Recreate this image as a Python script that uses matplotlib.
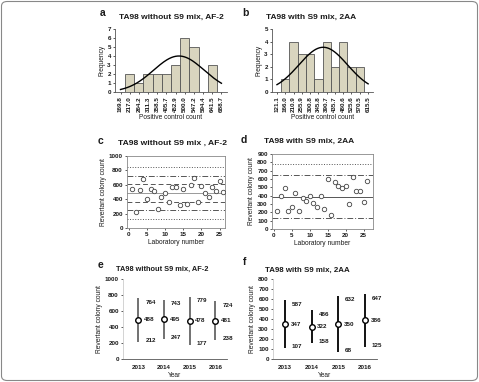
import matplotlib.pyplot as plt
import matplotlib.patches as mpatches
import numpy as np

W, H = 479, 382

# panel a / b histograms
binsA = [169.8, 217.0, 264.2, 311.3, 358.5, 405.7, 452.9, 500.0, 547.2, 594.4, 641.5, 688.7]
freqA = [0, 2, 1, 2, 2, 2, 3, 6, 5, 0, 3, 0]
binsB = [121.1, 166.0, 210.9, 255.9, 300.8, 345.8, 390.7, 435.7, 480.6, 525.6, 570.5, 615.5]
freqB = [0, 1, 4, 3, 3, 1, 4, 2, 4, 2, 2, 0]
# fitted normal curves (mean, sd, peak)
curveA = (470.0, 130.0, 4.0)
curveB = (372.0, 132.0, 3.55)

# panel c / d laboratory results
labs = list(range(1, 27))
countC = [541, 220, 527, 674, 404, 541, 518, 266, 436, 482, 358, 564, 564,
          321, 537, 335, 596, 688, 367, 583, 482, 436, 573, 514, 656, 495]
countD = [212, 400, 492, 212, 264, 432, 212, 372, 340, 400, 312, 264, 400,
          240, 604, 168, 560, 520, 492, 512, 300, 620, 460, 452, 324, 572]
meanC, sdC = 486, 121
meanD, sdD = 390, 130

# panel e / f yearly summaries
years = ['2013', '2014', '2015', '2016']
meanE = [488, 495, 478, 481]
minE = [212, 247, 177, 238]
maxE = [764, 743, 779, 724]
meanF = [347, 322, 350, 386]
minF = [107, 158, 68, 125]
maxF = [587, 486, 632, 647]

plt.rcParams['font.family'] = ['Liberation Sans', 'DejaVu Sans']
plt.rcParams['font.weight'] = 'bold'
TXT = '#1a1a1a'
TICK = 4.5
LAB = 4.8

fig = plt.figure(figsize=(W / 100, H / 100), dpi=100)
fig.patches.append(mpatches.FancyBboxPatch((1.5 / W, 1.5 / H), 1 - 3 / W, 1 - 3 / H,
                                           boxstyle='round,pad=0,rounding_size=0.012',
                                           transform=fig.transFigure, fill=False,
                                           edgecolor='#888888', lw=0.8))


def ax_px(l, t, r, b):
    return fig.add_axes([l / W, 1 - b / H, (r - l) / W, (b - t) / H])


def ftext(x, y, s, **kw):
    fig.text(x / W, 1 - y / H, s, color=TXT, ha='center', va='center', **kw)


def style(ax, box=False):
    for s in ['top', 'right']:
        ax.spines[s].set_visible(box)
    for s in ax.spines.values():
        s.set_linewidth(0.6)
        s.set_color('#888888' if box else '#555555')
    ax.tick_params(labelsize=TICK, length=1.5, width=0.5, pad=1.5, colors=TXT)


def histogram(ax, bins, freq, curve, ymax):
    idx = np.arange(len(bins))
    ax.bar(idx, freq, width=1.0, color='#d9d5bf', edgecolor='#555555', linewidth=0.6)
    step = bins[1] - bins[0]
    xs = np.linspace(bins[0], bins[-1], 200)
    mu, sd, peak = curve
    ax.plot((xs - bins[0]) / step, peak * np.exp(-0.5 * ((xs - mu) / sd) ** 2), color='black', lw=1.0)
    ax.set_xlim(-0.6, len(bins) - 0.4)
    ax.set_ylim(0, ymax)
    ax.set_yticks(range(ymax + 1))
    ax.set_xticks(idx)
    ax.set_xticklabels(['%.1f' % b for b in bins], rotation=90)
    ax.set_ylabel('Frequency', fontsize=LAB, labelpad=1.5, color=TXT)
    ax.set_xlabel('Positive control count', fontsize=LAB, labelpad=1.5, color=TXT)
    style(ax)


def scatter(ax, counts, lines, ymax, ystep, xmax):
    ax.plot(labs, counts, 'o', ms=3.2, mfc='white', mec='#444444', mew=0.6, zorder=3)
    for y, ls, col in lines:
        ax.axhline(y, ls=ls, color=col, lw=0.7)
    ax.set_xlim(-0.5, xmax)
    ax.set_ylim(0, ymax)
    ax.set_yticks(range(0, ymax + 1, ystep))
    ax.set_xticks(range(0, 26, 5))
    ax.set_ylabel('Revertant colony count', fontsize=LAB, labelpad=1.5, color=TXT)
    ax.set_xlabel('Laboratory number', fontsize=LAB, labelpad=1.5, color=TXT)
    style(ax, box=True)


def summary(ax, mean, lo, hi, ymax, ystep, barcol, xlim):
    x = np.arange(len(years))
    ax.vlines(x, lo, hi, color=barcol, lw=1.3)
    ax.plot(x, mean, 'o', ms=4.0, mfc='white', mec='black', mew=1.0, zorder=3)
    for i in range(len(years)):
        ax.annotate(str(hi[i]), (x[i], hi[i]), xytext=(5, -3), textcoords='offset points',
                    fontsize=TICK, va='center', color=TXT)
        ax.annotate(str(mean[i]), (x[i], mean[i]), xytext=(4, 0), textcoords='offset points',
                    fontsize=TICK, va='center', color=TXT)
        ax.annotate(str(lo[i]), (x[i], lo[i]), xytext=(5, 1), textcoords='offset points',
                    fontsize=TICK, va='center', color=TXT)
    ax.set_xlim(*xlim)
    ax.set_ylim(0, ymax)
    ax.set_yticks(range(0, ymax + 1, ystep))
    ax.set_xticks(x)
    ax.set_xticklabels(years)
    ax.set_ylabel('Revertant colony count', fontsize=LAB, labelpad=1.5, color=TXT)
    ax.set_xlabel('Year', fontsize=LAB, labelpad=1.5, color=TXT)
    style(ax)
    ax.spines['left'].set_color('#cccccc')
    ax.tick_params(axis='x', length=0, pad=4)


# a
axA = ax_px(115, 29, 227, 92)
histogram(axA, binsA, freqA, curveA, 7)
ftext(103, 13, 'a', fontsize=7.5)
ftext(171, 17, 'TA98 without S9 mix, AF-2', fontsize=6.0)

# b
axB = ax_px(272, 29, 373, 92)
histogram(axB, binsB, freqB, curveB, 5)
ftext(245, 13, 'b', fontsize=7.5)
ftext(311, 17, 'TA98 with S9 mix, 2AA', fontsize=6.0)

# c
axC = ax_px(127, 156, 225, 228)
linesC = [(meanC + 3 * sdC, ':', '#555555'), (meanC + 2 * sdC, (0, (6, 2, 1, 2)), '#555555'),
          (meanC + sdC, (0, (5, 3)), '#555555'), (meanC, '-', '#999999'),
          (meanC - sdC, (0, (5, 3)), '#555555'), (meanC - 2 * sdC, (0, (6, 2, 1, 2)), '#555555'),
          (meanC - 3 * sdC, ':', '#555555')]
scatter(axC, countC, linesC, 1000, 200, 26.5)
ftext(100, 141, 'c', fontsize=7.5)
ftext(172, 143, 'TA98 without S9 mix , AF-2', fontsize=6.1)

# d
axD = ax_px(272, 154, 373, 229)
linesD = [(meanD + 3 * sdD, ':', '#555555'), (meanD + 2 * sdD, (0, (6, 2, 1, 2)), '#555555'),
          (meanD, '-', '#555555'), (meanD - 2 * sdD, (0, (6, 2, 1, 2)), '#555555')]
scatter(axD, countD, linesD, 900, 100, 27.6)
ftext(244, 140, 'd', fontsize=7.5)
ftext(309, 141, 'TA98 with S9 mix, 2AA', fontsize=6.0)

# e
axE = ax_px(123, 279, 227, 359)
summary(axE, meanE, minE, maxE, 1000, 200, '#666666', (-0.6, 3.45))
ftext(100, 265, 'e', fontsize=7.5)
ftext(162, 269, 'TA98 without S9 mix, AF-2', fontsize=5.3)

# f
axF = ax_px(273, 279, 377, 359)
summary(axF, meanF, minF, maxF, 800, 100, 'black', (-0.45, 3.45))
ftext(245, 262, 'f', fontsize=7.5)
ftext(307, 270, 'TA98 with S9 mix, 2AA', fontsize=5.7)

fig.savefig('out.png', dpi=100, facecolor='white')
